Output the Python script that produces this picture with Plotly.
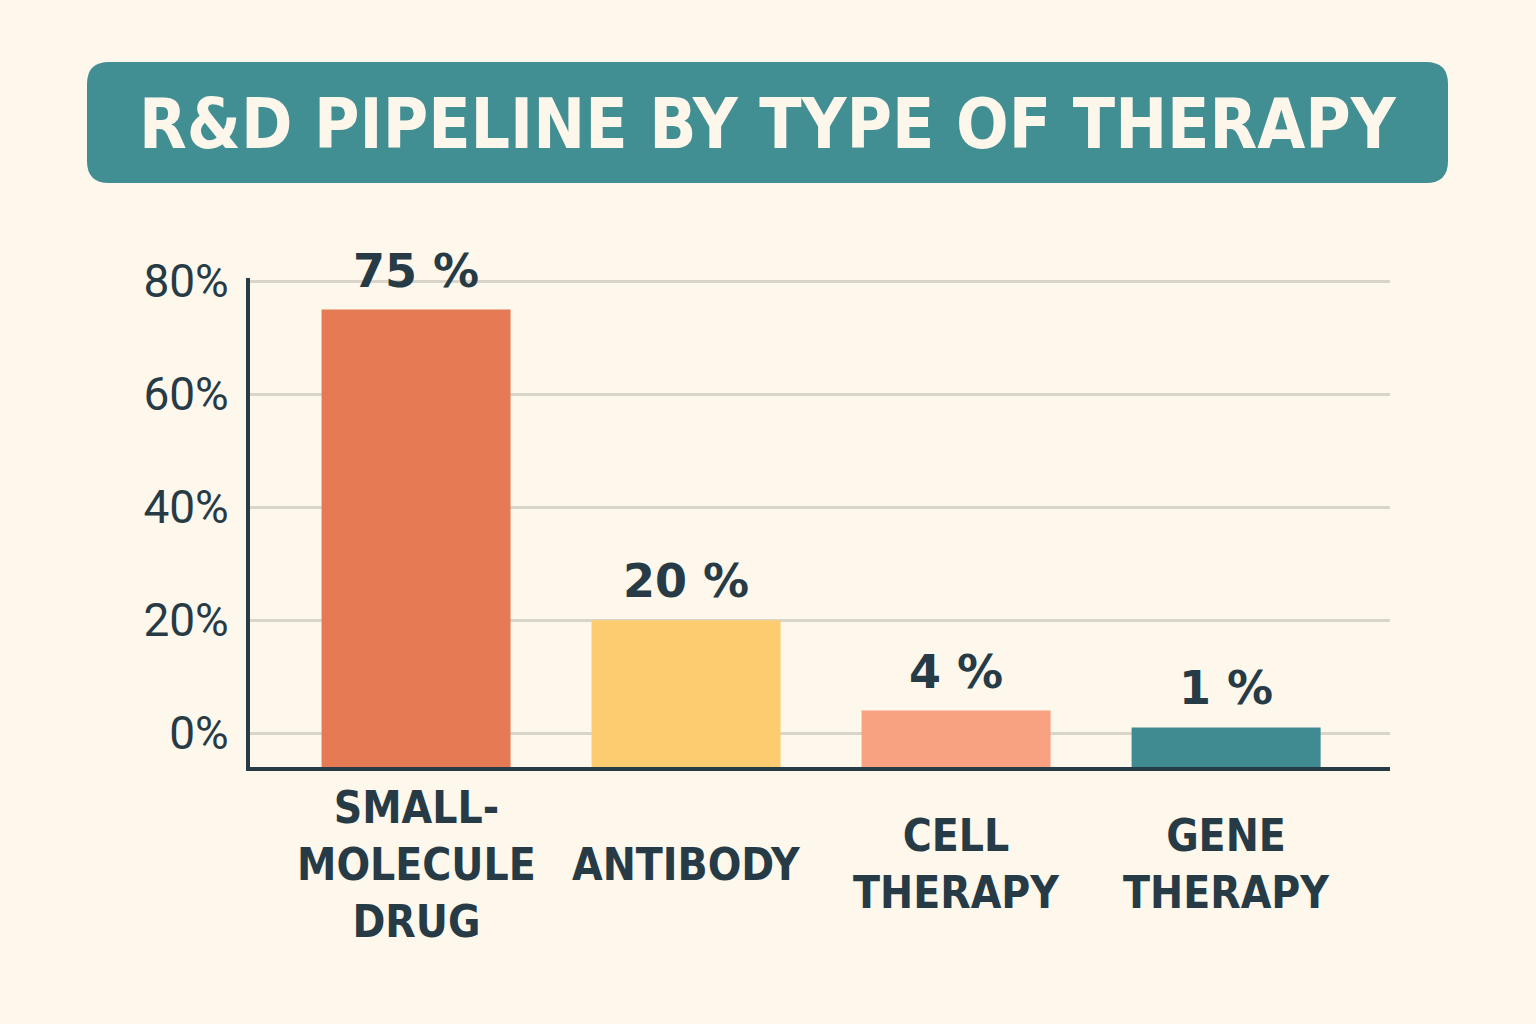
import plotly.graph_objects as go

categories = ["SMALL-<br>MOLECULE<br>DRUG", "ANTIBODY", "CELL<br>THERAPY", "GENE<br>THERAPY"]
values = [75, 20, 4, 1]
value_labels = ["75 %", "20 %", "4 %", "1 %"]
bar_colors = ["#E67A54", "#FDCC70", "#F8A282", "#3F8B91"]
tick_vals = [0, 20, 40, 60, 80]
tick_text = ["0%", "20%", "40%", "60%", "80%"]
title_text = "R&D PIPELINE BY TYPE OF THERAPY"

BG = "#FDF7EC"
DARK = "#263B45"
TEAL = "#418E93"
GRID = "#D9D6C9"
Y_MIN, Y_MAX = -6, 80.6

W, H = 1536, 1024
L, R, T, B = 250, 146, 278, 257
PW, PH = W - L - R, H - T - B

x_idx = list(range(len(categories)))

fig = go.Figure()
fig.add_trace(go.Bar(
    x=x_idx,
    y=[v - Y_MIN for v in values],
    base=Y_MIN,
    width=0.70,
    marker=dict(color=bar_colors, line=dict(width=0)),
    hoverinfo="skip",
))

# value labels
for i, (v, lab) in enumerate(zip(values, value_labels)):
    fig.add_annotation(x=i, y=v, text=lab, showarrow=False, yanchor="bottom",
                       yshift=10, xref="x", yref="y",
                       font=dict(family="DejaVu Sans, Roboto, sans-serif", size=46, color=DARK, weight="bold"))

# category labels
for i, c in enumerate(categories):
    fig.add_annotation(x=i, y=-(864 - (H - B)) / PH, xref="x", yref="paper", text=c,
                       showarrow=False, yanchor="middle",
                       font=dict(family="DejaVu Sans Condensed, Liberation Sans Narrow, sans-serif",
                                 size=44, color=DARK, weight=600))

# title box (rounded rect), pixel -> paper coordinates
def px(xp):
    return (xp - L) / PW

def py(yp):
    return (H - B - yp) / PH

x0, x1, y0, y1, r = 87, 1448, 62, 183, 22
path = (f"M {px(x0+r)} {py(y0)} L {px(x1-r)} {py(y0)} Q {px(x1)} {py(y0)} {px(x1)} {py(y0+r)} "
        f"L {px(x1)} {py(y1-r)} Q {px(x1)} {py(y1)} {px(x1-r)} {py(y1)} "
        f"L {px(x0+r)} {py(y1)} Q {px(x0)} {py(y1)} {px(x0)} {py(y1-r)} "
        f"L {px(x0)} {py(y0+r)} Q {px(x0)} {py(y0)} {px(x0+r)} {py(y0)} Z")
fig.add_shape(type="path", path=path, xref="paper", yref="paper",
              fillcolor=TEAL, line=dict(width=0), layer="below")
fig.add_annotation(x=px((x0 + x1) / 2), y=py(124), xref="paper", yref="paper",
                   text=title_text, showarrow=False, xanchor="center", yanchor="middle",
                   font=dict(family="Liberation Sans Narrow, DejaVu Sans Condensed, sans-serif",
                             size=69, color="#FDF6EA", weight="bold"))

fig.update_layout(
    width=W, height=H,
    margin=dict(l=L, r=R, t=T, b=B, pad=0),
    paper_bgcolor=BG, plot_bgcolor=BG,
    showlegend=False,
    bargap=0.3,
)
fig.update_xaxes(
    range=[-0.615, 3.607], showticklabels=False, showgrid=False, zeroline=False,
    showline=True, linecolor=DARK, linewidth=4, ticks="", fixedrange=True,
)
fig.update_yaxes(
    range=[Y_MIN, Y_MAX], tickvals=tick_vals, ticktext=tick_text,
    showgrid=True, gridcolor=GRID, gridwidth=3, zeroline=False,
    showline=True, linecolor=DARK, linewidth=4, ticks="",
    ticklabelstandoff=8,
    tickfont=dict(family="Roboto, Inter, sans-serif", size=46, color=DARK),
    fixedrange=True,
)

fig.write_html("out.html", config={"displayModeBar": False},
               post_script="document.body.style.margin='0';document.body.style.background='#FDF7EC';")
